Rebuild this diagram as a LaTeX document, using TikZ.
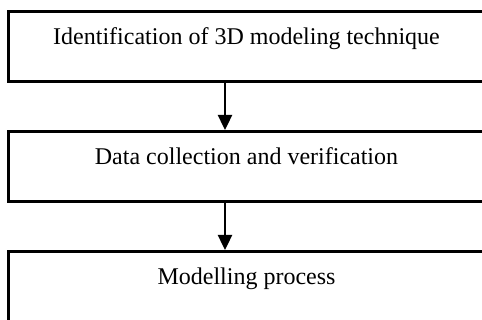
\documentclass[tikz,border=0pt]{standalone}
\usepackage{fontspec}
\setmainfont{Liberation Serif}
\usetikzlibrary{arrows.meta}

\begin{document}
\begin{tikzpicture}
  [x=1pt,y=-1pt,
   stageN/.style={draw,line width=3.3pt,anchor=north,inner sep=0pt,
     minimum width=476pt,text height=33pt,text depth=37pt,
     font=\fontsize{24}{28}\selectfont},
   flowE/.style={line width=2.4pt,-{Triangle[length=15pt,width=14pt]}}]

  \useasboundingbox (0,0) rectangle (482,320);
  \clip (0,0) rectangle (482,320);

  \coordinate (ax) at (225,0);

  \node[stageN] (ident) at (246.5,10)  {Identification of 3D modeling technique};
  \node[stageN] (data)  at (246.5,130) {Data collection and verification};
  \node[stageN] (model) at (246.5,250) {Modelling process};

  \draw [flowE] (ident.south -| ax) -- (data.north -| ax);
  \draw [flowE] (data.south -| ax) -- (model.north -| ax);
\end{tikzpicture}
\end{document}
